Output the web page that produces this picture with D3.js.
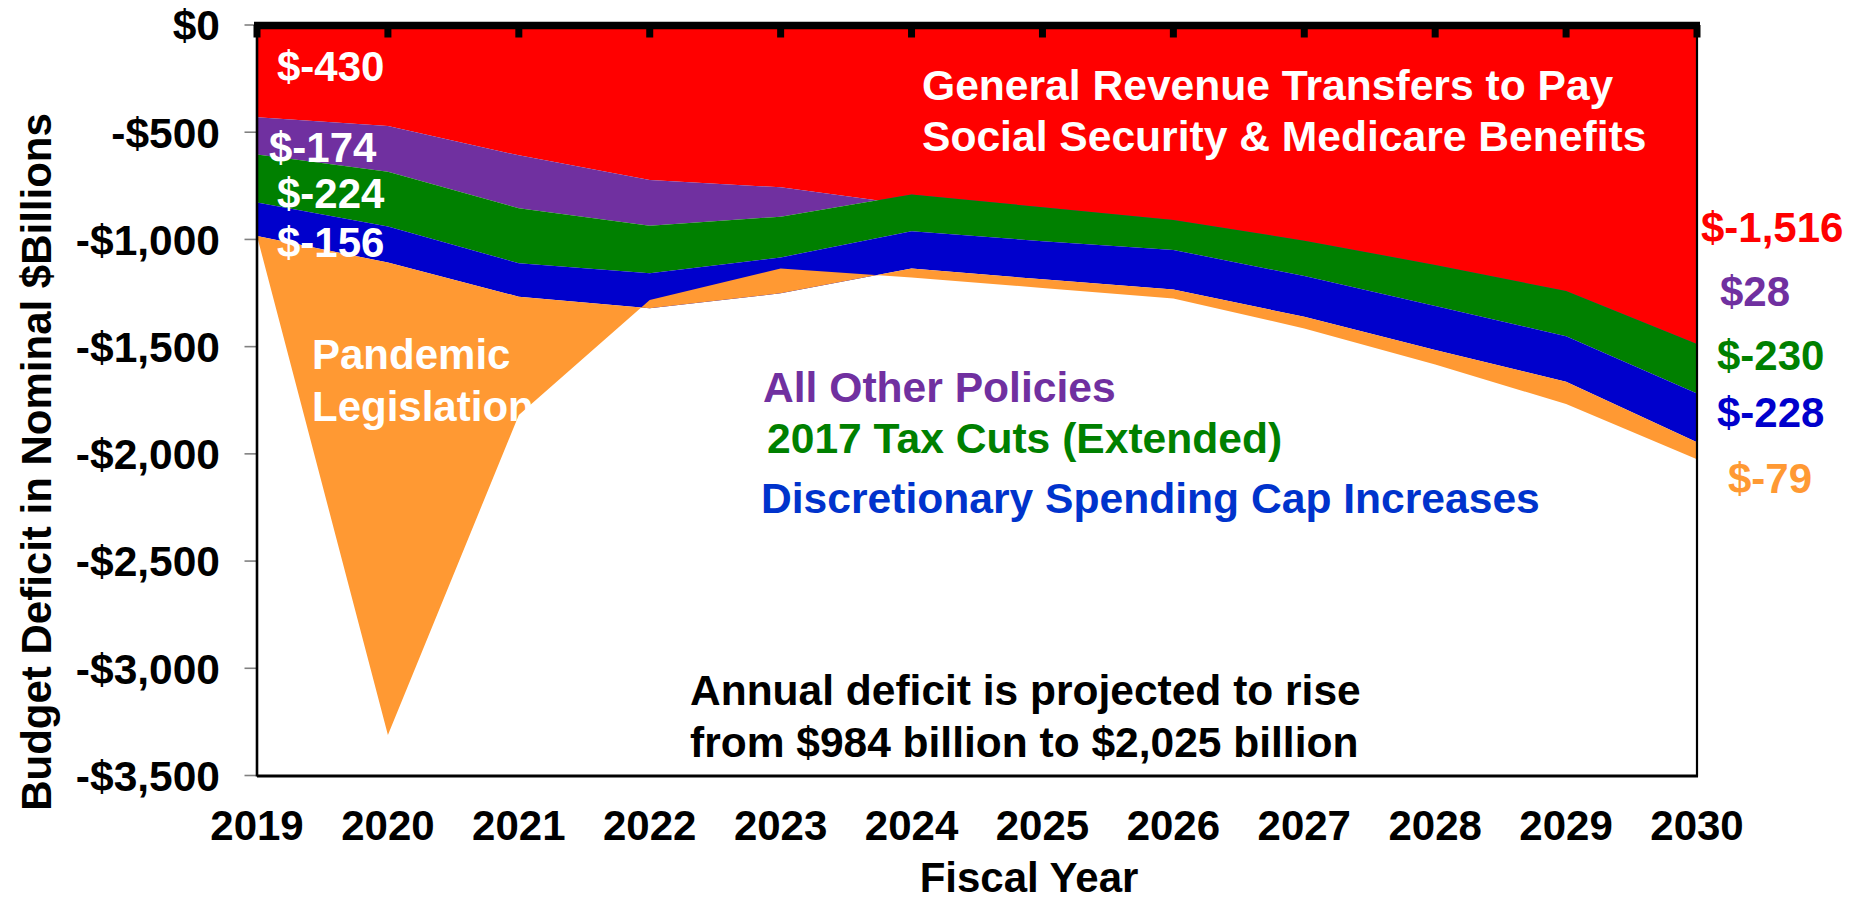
<!DOCTYPE html>
<html>
<head>
<meta charset="utf-8">
<script src="https://cdn.jsdelivr.net/npm/d3@7"></script>
<style>
  html, body { margin: 0; padding: 0; background: #ffffff; }
  svg { display: block; }
  text { font-family: "Liberation Sans", Arial, Helvetica, sans-serif; font-weight: bold; }
</style>
</head>
<body>
<svg id="chart" width="1865" height="903"></svg>
<script>
// Fiscal years on the category axis
const years = [2019, 2020, 2021, 2022, 2023, 2024, 2025, 2026, 2027, 2028, 2029, 2030];

// Contributions to the annual deficit, nominal $ billions (stacked in this order)
const generalRevenueTransfers = [-430, -471, -608, -723, -757, -840, -894, -947, -1039, -1149, -1270, -1516];
const allOtherPolicies        = [-174, -213, -247, -213, -137,   50,   44,   38,    33,    30,    29,    28];
const taxCuts2017             = [-224, -256, -256, -222, -190, -172, -158, -140,  -165,  -192,  -210,  -230];
const discretionaryCaps       = [-156, -168, -156, -163, -167, -174, -178, -184,  -190,  -205,  -213,  -228];
const pandemicLegislation     = [   0, -2203, -552,  38,  116,  -41,  -40,  -42,   -54,   -67,  -104,   -79];

// Value-axis ticks
const yTicks = [0, -500, -1000, -1500, -2000, -2500, -3000, -3500];

const seriesKeys = ["transfers", "other", "tax", "caps", "pandemic"];
const seriesColors = {
  transfers: "#FF0000",
  other: "#7030A0",
  tax: "#008000",
  caps: "#0000CC",
  pandemic: "#FF9933"
};

const rows = years.map((y, i) => ({
  year: y,
  transfers: generalRevenueTransfers[i],
  other: allOtherPolicies[i],
  tax: taxCuts2017[i],
  caps: discretionaryCaps[i],
  pandemic: pandemicLegislation[i]
}));

// Number formatting with a plain hyphen for negatives
const locale = d3.formatLocale({ decimal: ".", thousands: ",", grouping: [3], currency: ["$", ""], minus: "-" });
const comma = locale.format(",");

const svg = d3.select("#chart");
const plot = { left: 257, right: 1697, top: 25, bottom: 775.5 };

const x = d3.scalePoint().domain(years).range([plot.left, plot.right]);
const y = d3.scaleLinear().domain([0, -3500]).range([plot.top, plot.bottom]);

// Cumulative stacking: each band sits on the running total of the ones before it
const stacked = d3.stack()
  .keys(seriesKeys)
  .order(d3.stackOrderNone)
  .offset(d3.stackOffsetNone)(rows);

const area = d3.area()
  .x(d => x(d.data.year))
  .y0(d => y(d[0]))
  .y1(d => y(d[1]));

svg.append("g")
  .selectAll("path")
  .data(stacked)
  .join("path")
  .attr("d", area)
  .attr("fill", d => seriesColors[d.key]);

// Value axis (left) with grey outside ticks
svg.append("g")
  .selectAll("line")
  .data(yTicks)
  .join("line")
  .attr("x1", plot.left - 12.5)
  .attr("x2", plot.left)
  .attr("y1", d => y(d))
  .attr("y2", d => y(d))
  .attr("stroke", "#808080")
  .attr("stroke-width", 1.6);

const fmtAxis = v => (v < 0 ? "-$" : "$") + comma(Math.abs(v));
svg.append("g")
  .selectAll("text")
  .data(yTicks)
  .join("text")
  .attr("x", 220)
  .attr("y", d => y(d))
  .attr("dy", "0.36em")
  .attr("text-anchor", "end")
  .attr("font-size", 42.5)
  .attr("fill", "#000")
  .text(fmtAxis);

// Plot frame: left, bottom and right edges
svg.append("line")
  .attr("x1", plot.left).attr("x2", plot.left)
  .attr("y1", plot.top).attr("y2", plot.bottom + 1)
  .attr("stroke", "#000").attr("stroke-width", 2.6);
svg.append("line")
  .attr("x1", plot.left).attr("x2", plot.right + 1)
  .attr("y1", plot.bottom + 0.5).attr("y2", plot.bottom + 0.5)
  .attr("stroke", "#000").attr("stroke-width", 2.8);
svg.append("line")
  .attr("x1", plot.right).attr("x2", plot.right)
  .attr("y1", plot.top).attr("y2", plot.bottom + 1)
  .attr("stroke", "#000").attr("stroke-width", 2.2);

// Category axis crossing at $0: heavy line with short ticks hanging below
svg.append("line")
  .attr("x1", plot.left - 3).attr("x2", plot.right + 3)
  .attr("y1", plot.top + 0.5).attr("y2", plot.top + 0.5)
  .attr("stroke", "#000").attr("stroke-width", 7.5);
svg.append("g")
  .selectAll("line")
  .data(years)
  .join("line")
  .attr("x1", d => x(d)).attr("x2", d => x(d))
  .attr("y1", plot.top).attr("y2", plot.top + 12.5)
  .attr("stroke", "#000").attr("stroke-width", 7);

// Year labels below the plot
svg.append("g")
  .selectAll("text")
  .data(years)
  .join("text")
  .attr("x", d => x(d))
  .attr("y", 840)
  .attr("text-anchor", "middle")
  .attr("font-size", 42)
  .attr("fill", "#000")
  .text(d => d);

// Axis titles
svg.append("text")
  .attr("x", 1029).attr("y", 892)
  .attr("text-anchor", "middle")
  .attr("font-size", 42)
  .attr("fill", "#000")
  .text("Fiscal Year");

svg.append("text")
  .attr("transform", "translate(51,462) rotate(-90)")
  .attr("text-anchor", "middle")
  .attr("font-size", 42)
  .attr("fill", "#000")
  .text("Budget Deficit in Nominal $Billions");

const fmtLabel = v => "$" + comma(v);
const first = rows[0];
const last = rows[rows.length - 1];

// Starting-year values written inside the bands
const startLabels = [
  { key: "transfers", x: 277, y: 81 },
  { key: "other", x: 269, y: 162 },
  { key: "tax", x: 277, y: 208 },
  { key: "caps", x: 277, y: 257 }
];
svg.append("g")
  .selectAll("text")
  .data(startLabels)
  .join("text")
  .attr("x", d => d.x)
  .attr("y", d => d.y)
  .attr("font-size", 42)
  .attr("fill", "#FFFFFF")
  .text(d => fmtLabel(first[d.key]));

// Final-year values to the right of the plot
const endLabels = [
  { key: "transfers", x: 1701, y: 241.5, color: "#FF0000" },
  { key: "other", x: 1720, y: 306, color: "#7030A0" },
  { key: "tax", x: 1717, y: 370, color: "#008000" },
  { key: "caps", x: 1717, y: 426.5, color: "#0000CC" },
  { key: "pandemic", x: 1728, y: 493, color: "#FF9933" }
];
svg.append("g")
  .selectAll("text")
  .data(endLabels)
  .join("text")
  .attr("x", d => d.x)
  .attr("y", d => d.y)
  .attr("font-size", 42)
  .attr("fill", d => d.color)
  .text(d => fmtLabel(last[d.key]));

// Series names
function multiline(lines, x0, y0, lineHeight, color, size) {
  const t = svg.append("text")
    .attr("x", x0).attr("y", y0)
    .attr("font-size", size)
    .attr("fill", color);
  lines.forEach((s, i) => {
    t.append("tspan").attr("x", x0).attr("y", y0 + i * lineHeight).text(s);
  });
}

multiline(["General Revenue Transfers to Pay", "Social Security & Medicare Benefits"],
  922, 100, 50.5, "#FFFFFF", 42.6);
multiline(["Pandemic", "Legislation"], 312, 369, 52, "#FFFFFF", 42);

svg.append("text").attr("x", 763).attr("y", 401.5)
  .attr("font-size", 42.6).attr("fill", "#7030A0").text("All Other Policies");
svg.append("text").attr("x", 767).attr("y", 453)
  .attr("font-size", 42.6).attr("fill", "#008000").text("2017 Tax Cuts (Extended)");
svg.append("text").attr("x", 761).attr("y", 513)
  .attr("font-size", 42.6).attr("fill", "#0033CC").text("Discretionary Spending Cap Increases");

// Deficit totals for the first and last years
const totalOf = r => -seriesKeys.reduce((s, k) => s + r[k], 0);
multiline([
  "Annual deficit is projected to rise",
  "from $" + comma(totalOf(first)) + " billion to $" + comma(totalOf(last)) + " billion"
], 690, 705, 51.5, "#000000", 42.5);
</script>
</body>
</html>
